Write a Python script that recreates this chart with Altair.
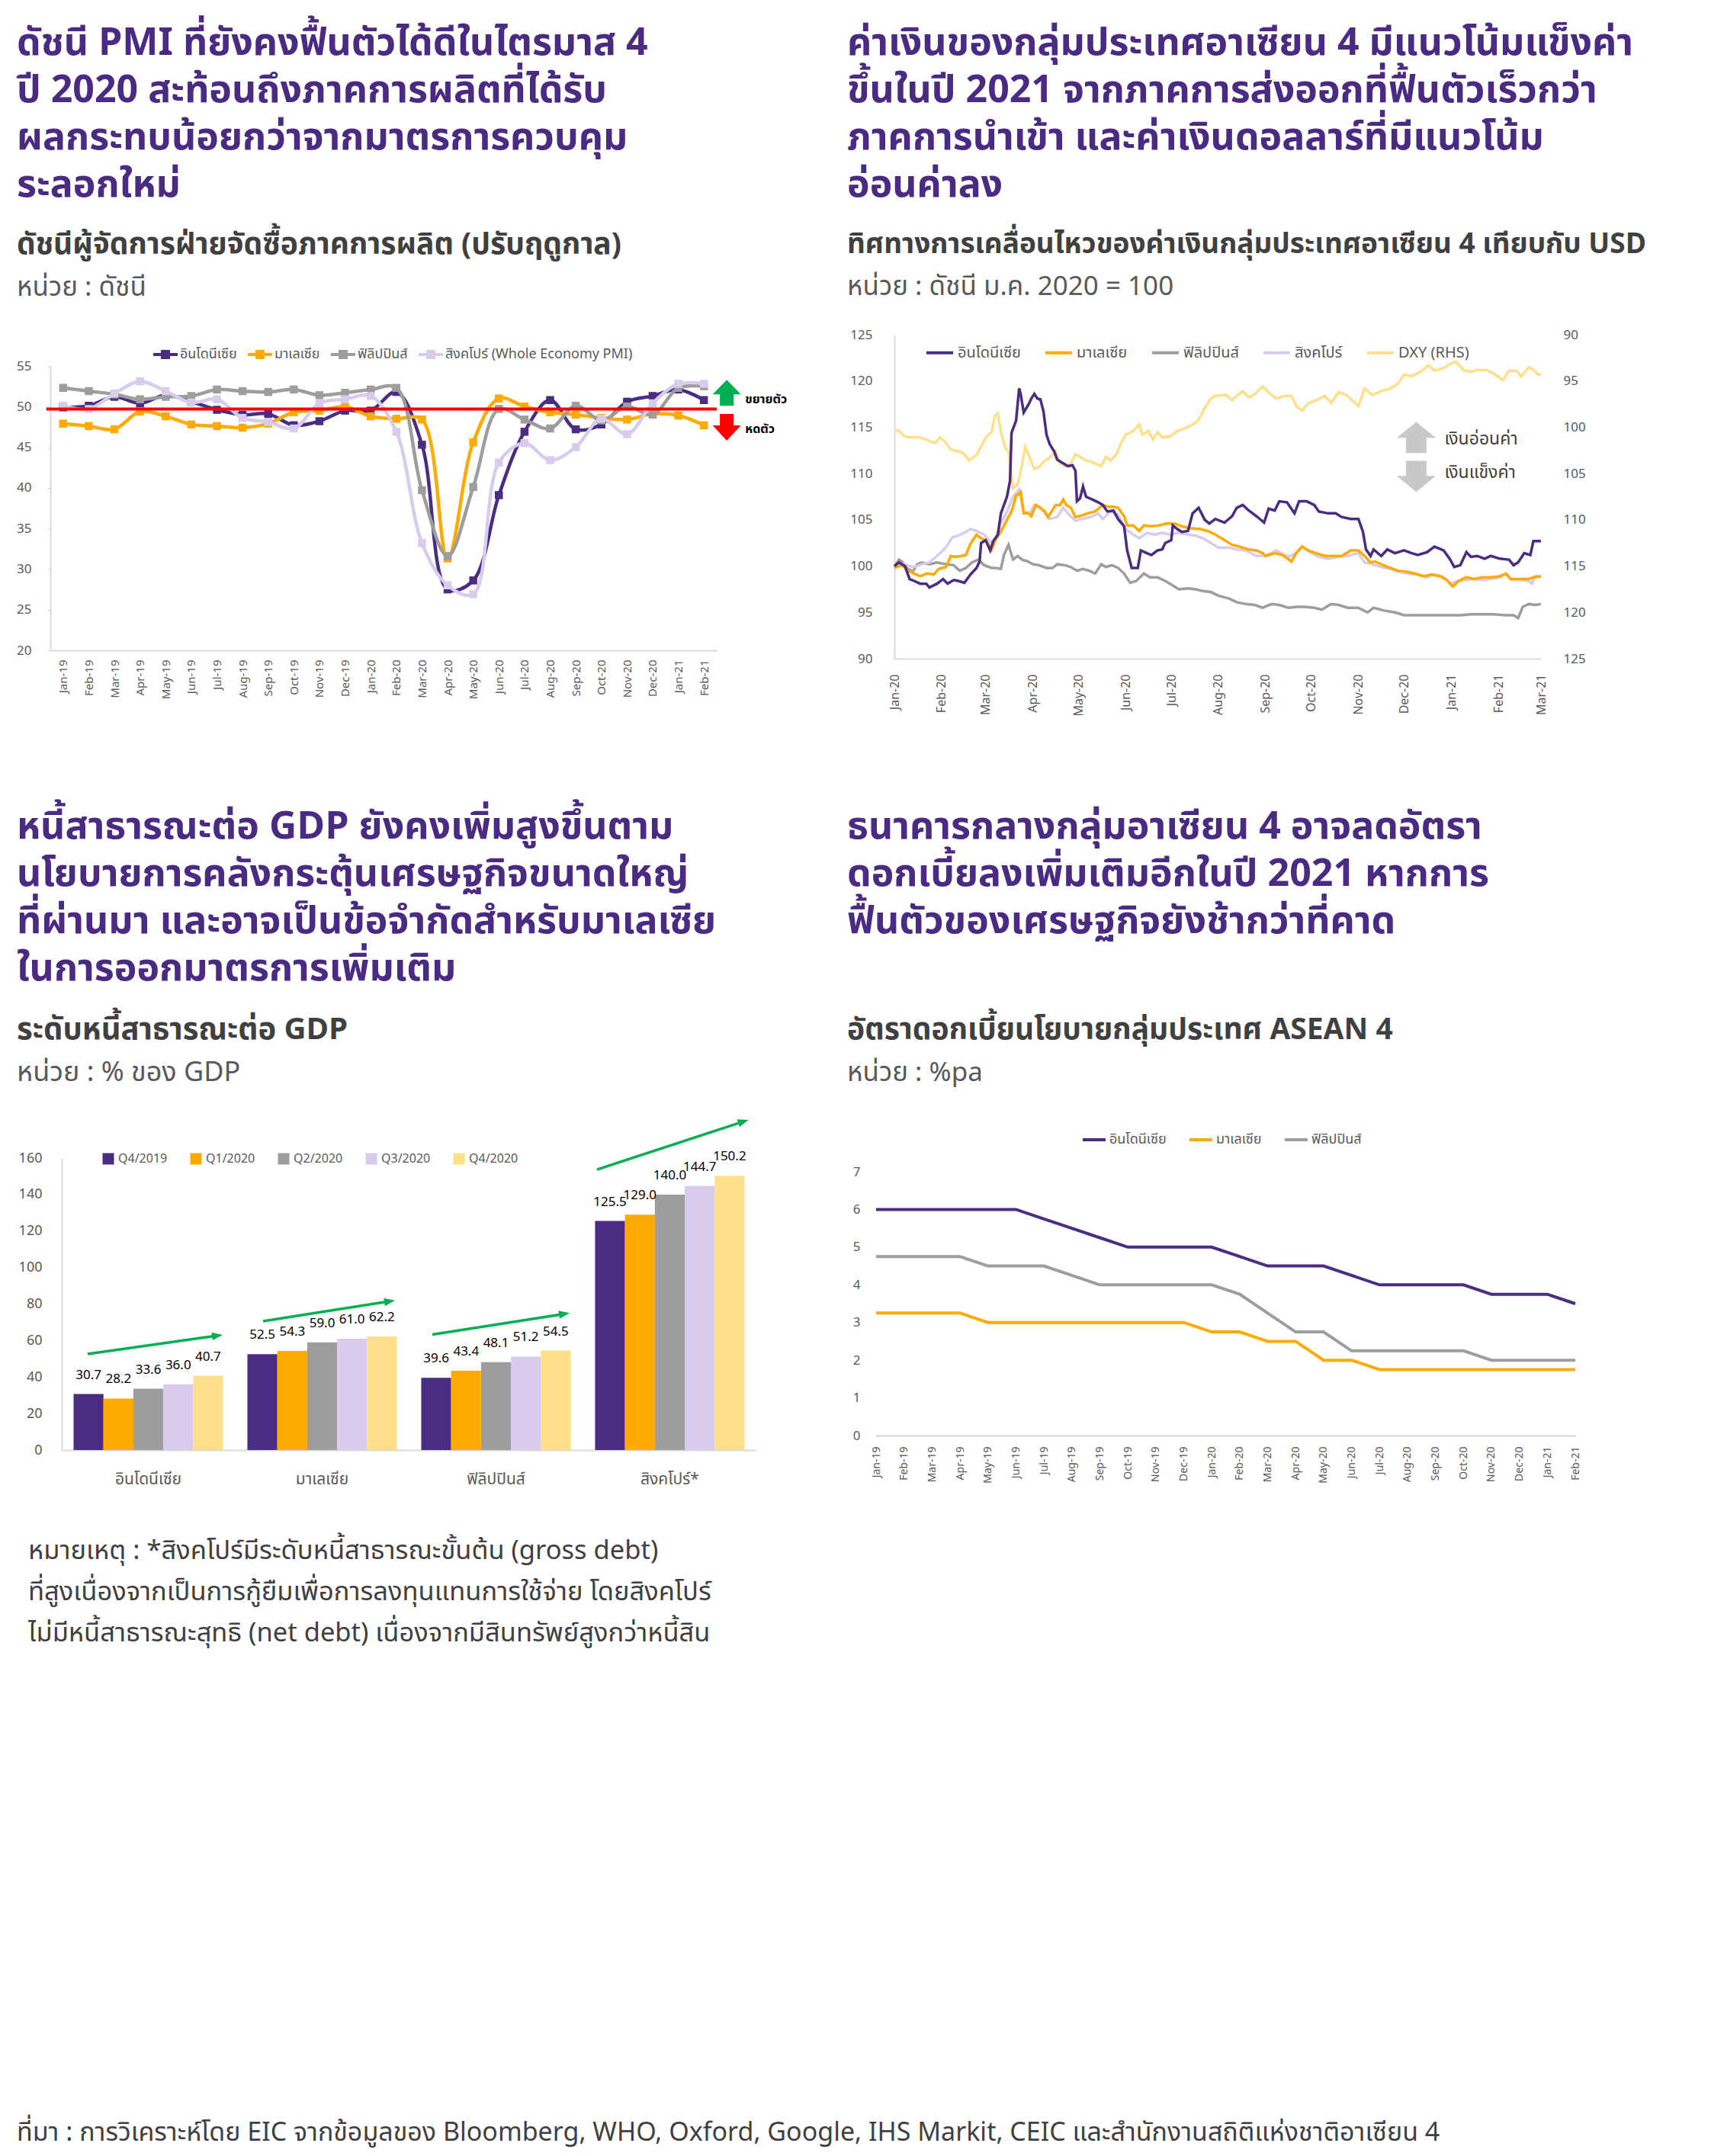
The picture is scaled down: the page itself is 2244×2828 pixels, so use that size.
import math
import altair as alt
import pandas as pd

FONT = "'Noto Sans Thai', 'Noto Sans', sans-serif"

# ---------------- colours ----------------
C_IDN = "#4B2C83"
C_MYS = "#FFAA00"
C_PHL = "#9D9D9D"
C_SGP = "#D9CBEB"
C_Q4 = "#FFDF8A"
TITLE_COLOR = "#4A2A82"
SUB_COLOR = "#404040"
UNIT_COLOR = "#595959"
AXIS_LABEL = "#595959"
AXIS_LINE = "#D9D9D9"
GREEN = "#00B050"
RED = "#FF0000"
ARROW_GRAY = "#C8C8C8"

# ---------------- texts ----------------
TITLE_A = ["ดัชนี PMI ที่ยังคงฟื้นตัวได้ดีในไตรมาส 4",
           "ปี 2020 สะท้อนถึงภาคการผลิตที่ได้รับ",
           "ผลกระทบน้อยกว่าจากมาตรการควบคุม",
           "ระลอกใหม่"]
SUB_A = "ดัชนีผู้จัดการฝ่ายจัดซื้อภาคการผลิต (ปรับฤดูกาล)"
UNIT_A = "หน่วย : ดัชนี"

TITLE_B = ["ค่าเงินของกลุ่มประเทศอาเซียน 4 มีแนวโน้มแข็งค่า",
           "ขึ้นในปี 2021 จากภาคการส่งออกที่ฟื้นตัวเร็วกว่า",
           "ภาคการนำเข้า และค่าเงินดอลลาร์ที่มีแนวโน้ม",
           "อ่อนค่าลง"]
SUB_B = "ทิศทางการเคลื่อนไหวของค่าเงินกลุ่มประเทศอาเซียน 4 เทียบกับ USD"
UNIT_B = "หน่วย : ดัชนี ม.ค. 2020 = 100"

TITLE_C = ["หนี้สาธารณะต่อ GDP ยังคงเพิ่มสูงขึ้นตาม",
           "นโยบายการคลังกระตุ้นเศรษฐกิจขนาดใหญ่",
           "ที่ผ่านมา และอาจเป็นข้อจำกัดสำหรับมาเลเซีย",
           "ในการออกมาตรการเพิ่มเติม"]
SUB_C = "ระดับหนี้สาธารณะต่อ GDP"
UNIT_C = "หน่วย : % ของ GDP"

TITLE_D = ["ธนาคารกลางกลุ่มอาเซียน 4 อาจลดอัตรา",
           "ดอกเบี้ยลงเพิ่มเติมอีกในปี 2021 หากการ",
           "ฟื้นตัวของเศรษฐกิจยังช้ากว่าที่คาด"]
SUB_D = "อัตราดอกเบี้ยนโยบายกลุ่มประเทศ ASEAN 4"
UNIT_D = "หน่วย : %pa"

FOOTNOTE = ["หมายเหตุ : *สิงคโปร์มีระดับหนี้สาธารณะขั้นต้น (gross debt)",
            "ที่สูงเนื่องจากเป็นการกู้ยืมเพื่อการลงทุนแทนการใช้จ่าย โดยสิงคโปร์",
            "ไม่มีหนี้สาธารณะสุทธิ (net debt) เนื่องจากมีสินทรัพย์สูงกว่าหนี้สิน"]
SOURCE = ("ที่มา : การวิเคราะห์โดย EIC จากข้อมูลของ Bloomberg, WHO, Oxford, Google, "
          "IHS Markit, CEIC และสำนักงานสถิติแห่งชาติอาเซียน 4")

# ---------------- data: PMI ----------------
PMI_MONTHS = ["Jan-19", "Feb-19", "Mar-19", "Apr-19", "May-19", "Jun-19", "Jul-19",
              "Aug-19", "Sep-19", "Oct-19", "Nov-19", "Dec-19", "Jan-20", "Feb-20",
              "Mar-20", "Apr-20", "May-20", "Jun-20", "Jul-20", "Aug-20", "Sep-20",
              "Oct-20", "Nov-20", "Dec-20", "Jan-21", "Feb-21"]
PMI_SERIES = ["อินโดนีเซีย", "มาเลเซีย", "ฟิลิปปินส์", "สิงคโปร์ (Whole Economy PMI)"]
IDN_PMI = [49.9, 50.1, 51.2, 50.4, 51.4, 50.6, 49.6, 49.0, 49.1, 47.7, 48.2, 49.5, 49.5,
           51.8, 45.3, 27.5, 28.6, 39.1, 46.9, 50.8, 47.2, 47.8, 50.6, 51.3, 52.1, 50.8]
MYS_PMI = [47.9, 47.6, 47.2, 49.4, 48.8, 47.8, 47.6, 47.4, 47.9, 49.3, 49.5, 50.0, 48.8,
           48.5, 48.4, 31.3, 45.6, 51.0, 50.0, 49.3, 49.0, 48.6, 48.4, 49.1, 48.9, 47.7]
PHL_PMI = [52.3, 51.9, 51.5, 50.9, 51.2, 51.3, 52.1, 51.9, 51.8, 52.1, 51.4, 51.7, 52.1,
           52.3, 39.7, 31.6, 40.1, 49.7, 48.4, 47.3, 50.1, 48.3, 50.0, 49.0, 52.3, 52.5]
SGP_PMI = [50.1, 49.7, 51.6, 53.1, 51.9, 50.5, 50.9, 48.6, 48.1, 47.3, 50.4, 50.9, 51.3,
           46.9, 33.2, 28.0, 26.9, 43.1, 45.5, 43.4, 45.0, 48.5, 46.6, 50.4, 52.8, 52.8]
PMI_THRESHOLD = 49.7
PMI_SIGNAL_LABELS = ["ขยายตัว", "หดตัว"]
PMI_SIGNAL_LABEL_Y = [50.9, 47.2]
PMI_SIGNAL_ARROW_Y = [51.7, 47.45]

# ---------------- data: currencies (day offset from 1 Jan 2020, index) ----------------
IDN_FX = [(0, 100.0), (3, 100.4), (7, 100.0), (10, 98.6), (13, 98.4), (17, 98.1), (21, 98.1),
          (23, 97.7), (28, 98.1), (32, 98.6), (35, 98.1), (39, 98.5), (42, 98.4), (46, 98.2),
          (50, 99.1), (54, 99.8), (56, 100.5), (57, 102.5), (60, 102.8), (63, 101.7),
          (65, 102.7), (68, 103.4), (70, 105.7), (74, 107.5), (76, 109.2), (77, 114.4),
          (80, 115.7), (82, 119.2), (83, 118.6), (85, 116.6), (88, 117.4), (90, 118.1),
          (92, 118.6), (94, 118.1), (96, 118.0), (98, 116.7), (100, 114.2), (102, 113.2),
          (105, 112.4), (107, 111.5), (111, 111.1), (114, 110.8), (117, 110.9), (119, 110.3),
          (120, 107.0), (122, 107.3), (124, 108.6), (126, 107.5), (130, 107.2), (134, 106.9),
          (137, 106.6), (140, 105.9), (144, 106.0), (147, 105.1), (151, 104.3), (153, 101.7),
          (156, 99.8), (160, 99.8), (162, 101.7), (166, 101.4), (169, 101.2), (173, 101.7),
          (176, 101.8), (178, 102.5), (182, 102.8), (183, 104.4), (186, 104.0), (189, 103.7),
          (193, 103.8), (196, 105.7), (200, 106.3), (204, 105.0), (207, 104.6), (211, 105.1),
          (217, 104.7), (222, 105.4), (225, 106.3), (229, 106.6), (233, 106.0), (238, 105.4),
          (243, 104.7), (246, 106.2), (250, 106.0), (253, 107.0), (258, 106.9), (263, 105.7),
          (266, 107.0), (271, 107.0), (276, 106.6), (279, 105.9), (285, 105.7), (290, 105.7),
          (294, 105.3), (300, 105.1), (305, 105.1), (308, 103.7), (310, 101.8), (313, 101.1),
          (315, 101.8), (320, 101.1), (324, 101.8), (329, 101.4), (335, 101.7), (340, 101.4),
          (344, 101.2), (350, 101.5), (355, 102.1), (361, 101.7), (365, 100.8), (368, 99.9),
          (372, 100.1), (376, 101.5), (379, 101.0), (383, 101.1), (388, 100.8), (392, 101.1),
          (398, 100.8), (404, 100.7), (407, 100.1), (410, 100.4), (414, 101.4), (418, 101.2),
          (420, 102.7), (425, 102.7)]
MYS_FX = [(0, 99.8), (5, 100.1), (9, 99.5), (13, 99.2), (17, 98.9), (21, 99.2), (26, 99.1),
          (29, 99.7), (34, 99.9), (37, 101.1), (40, 101.0), (44, 101.1), (47, 101.2),
          (50, 102.4), (54, 103.4), (57, 103.0), (60, 102.8), (64, 101.8), (67, 103.0),
          (70, 103.7), (74, 105.0), (77, 105.9), (80, 107.6), (83, 108.0), (85, 105.7),
          (88, 105.7), (90, 105.4), (93, 106.6), (96, 106.3), (99, 105.9), (101, 105.3),
          (106, 106.6), (109, 106.6), (111, 107.2), (113, 106.6), (116, 106.3), (119, 105.3),
          (122, 105.4), (127, 105.7), (132, 105.9), (137, 106.6), (141, 106.4), (144, 106.4),
          (147, 106.3), (151, 105.4), (153, 104.4), (157, 104.4), (161, 103.8), (164, 104.4),
          (169, 104.3), (174, 104.4), (179, 104.6), (184, 104.6), (189, 104.3), (194, 104.1),
          (201, 104.0), (206, 103.8), (211, 103.4), (218, 102.7), (222, 102.3), (227, 102.1),
          (233, 101.8), (238, 101.7), (242, 101.4), (244, 101.1), (250, 101.4), (255, 101.2),
          (261, 100.5), (264, 101.4), (268, 102.1), (272, 101.7), (277, 101.4), (283, 101.1),
          (289, 101.1), (294, 101.1), (300, 101.7), (305, 101.7), (309, 101.1), (313, 100.4),
          (316, 100.5), (320, 100.2), (326, 99.8), (331, 99.5), (337, 99.4), (342, 99.2),
          (348, 98.9), (353, 99.1), (359, 98.9), (363, 98.5), (367, 97.8), (371, 98.4),
          (376, 98.8), (381, 98.6), (387, 98.8), (392, 98.8), (398, 98.9), (402, 99.2),
          (405, 98.6), (411, 98.6), (417, 98.6), (420, 98.8), (425, 98.9)]
SGP_FX = [(0, 99.9), (3, 100.4), (8, 100.1), (13, 99.9), (18, 100.2), (23, 100.4), (28, 101.1),
          (32, 101.7), (35, 102.3), (38, 103.1), (42, 103.3), (47, 103.7), (50, 104.0),
          (54, 103.8), (59, 103.4), (64, 102.5), (67, 103.1), (70, 104.6), (74, 105.9),
          (78, 107.5), (82, 108.3), (85, 105.9), (89, 105.7), (92, 106.6), (95, 106.4),
          (99, 105.7), (102, 105.1), (107, 105.3), (111, 106.3), (114, 105.7), (119, 104.9),
          (124, 105.1), (129, 105.3), (134, 105.7), (137, 105.1), (142, 105.9), (147, 105.6),
          (152, 104.0), (157, 103.4), (161, 103.0), (166, 103.6), (171, 103.4), (176, 103.6),
          (181, 103.4), (186, 103.6), (193, 103.4), (198, 103.3), (203, 103.0), (208, 102.5),
          (213, 102.0), (220, 102.0), (225, 101.8), (231, 101.7), (238, 101.1), (244, 101.1),
          (251, 101.7), (259, 101.0), (264, 101.4), (268, 102.1), (274, 101.4), (279, 101.0),
          (285, 100.8), (292, 101.0), (298, 101.1), (305, 101.4), (309, 100.4), (314, 100.2),
          (320, 99.9), (326, 99.7), (331, 99.4), (337, 99.2), (344, 99.1), (350, 98.8),
          (355, 99.1), (361, 98.8), (366, 98.1), (370, 98.4), (376, 98.5), (381, 98.6),
          (387, 98.5), (392, 98.6), (398, 98.8), (402, 99.2), (405, 98.6), (411, 98.5),
          (417, 98.4), (419, 98.1), (421, 98.9), (425, 98.9)]
PHL_FX = [(0, 99.9), (3, 100.7), (5, 100.5), (8, 99.8), (12, 99.4), (15, 100.2), (18, 100.4),
          (23, 100.2), (28, 100.4), (34, 100.2), (39, 100.1), (43, 99.5), (47, 99.8),
          (51, 100.4), (55, 100.7), (59, 100.1), (64, 99.8), (67, 99.8), (70, 99.7),
          (72, 101.2), (75, 102.3), (78, 100.7), (81, 101.1), (84, 100.7), (88, 100.5),
          (91, 100.2), (95, 100.1), (100, 99.8), (104, 99.8), (107, 100.2), (112, 100.1),
          (116, 99.9), (120, 99.5), (124, 99.7), (128, 99.5), (132, 99.2), (136, 100.2),
          (139, 99.9), (143, 100.1), (147, 99.8), (151, 99.2), (155, 98.2), (159, 98.4),
          (164, 99.2), (168, 98.8), (173, 98.8), (178, 98.4), (183, 97.9), (187, 97.5),
          (193, 97.6), (198, 97.5), (203, 97.3), (208, 97.2), (213, 96.8), (220, 96.5),
          (225, 96.1), (231, 95.9), (237, 95.8), (242, 95.5), (248, 95.9), (253, 95.8),
          (259, 95.5), (264, 95.6), (270, 95.6), (276, 95.5), (281, 95.3), (287, 95.9),
          (292, 95.8), (298, 95.5), (305, 95.5), (311, 95.0), (315, 95.5), (322, 95.2),
          (329, 95.0), (335, 94.7), (342, 94.7), (350, 94.7), (357, 94.7), (365, 94.7),
          (372, 94.7), (379, 94.8), (387, 94.8), (394, 94.8), (402, 94.7), (407, 94.7),
          (410, 94.4), (413, 95.6), (417, 95.9), (421, 95.8), (425, 95.9)]
DXY_FX = [(0, 100.3), (3, 100.4), (7, 101.0), (12, 101.1), (17, 101.1), (20, 101.3), (27, 101.7),
          (30, 101.1), (34, 101.7), (37, 102.4), (42, 102.6), (46, 102.9), (49, 103.6),
          (54, 103.0), (57, 102.1), (60, 101.1), (64, 100.5), (66, 98.8), (68, 98.5),
          (70, 100.5), (73, 102.3), (75, 102.6), (78, 106.6), (81, 106.2), (84, 104.0),
          (86, 102.1), (88, 102.9), (92, 104.5), (95, 104.3), (99, 103.6), (102, 103.3),
          (106, 102.6), (109, 103.9), (112, 104.2), (116, 103.9), (119, 102.9), (122, 103.2),
          (126, 103.6), (129, 103.7), (132, 103.9), (136, 104.2), (139, 103.2), (142, 103.6),
          (146, 102.9), (149, 101.7), (152, 100.8), (157, 100.4), (161, 99.7), (163, 100.8),
          (167, 100.4), (170, 101.3), (173, 100.5), (176, 101.1), (181, 101.0), (186, 100.4),
          (191, 100.1), (196, 99.7), (200, 99.2), (204, 97.9), (208, 96.9), (211, 96.6),
          (218, 96.5), (222, 97.1), (225, 96.6), (229, 96.1), (233, 96.8), (237, 96.4),
          (242, 95.6), (247, 96.4), (251, 96.9), (257, 96.6), (261, 96.6), (264, 97.7),
          (268, 98.2), (272, 97.4), (277, 97.1), (283, 96.6), (287, 97.4), (292, 96.2),
          (297, 96.5), (301, 97.1), (305, 97.7), (309, 95.8), (314, 96.5), (320, 96.1),
          (326, 95.8), (331, 95.3), (335, 94.3), (340, 94.5), (346, 94.0), (351, 93.3),
          (355, 93.9), (361, 93.6), (365, 93.2), (369, 92.9), (374, 93.8), (379, 94.0),
          (383, 93.8), (389, 93.8), (394, 94.2), (400, 94.9), (404, 93.9), (409, 93.9),
          (412, 94.5), (417, 93.5), (420, 93.8), (423, 94.3), (425, 94.3)]
FX_SERIES = ["อินโดนีเซีย", "มาเลเซีย", "ฟิลิปปินส์", "สิงคโปร์", "DXY (RHS)"]
FX_BASE = pd.Timestamp("2020-01-01")
FX_ARROW_DATE = "2020-12-09"
FX_ARROW_Y = [113.9, 109.7]
FX_ARROW_LABELS = ["เงินอ่อนค่า", "เงินแข็งค่า"]
FX_ARROW_LABEL_Y = [113.7, 110.1]

# ---------------- data: public debt ----------------
DEBT_COUNTRIES = ["อินโดนีเซีย", "มาเลเซีย", "ฟิลิปปินส์", "สิงคโปร์*"]
DEBT_QUARTERS = ["Q4/2019", "Q1/2020", "Q2/2020", "Q3/2020", "Q4/2020"]
DEBT_IDN = [30.7, 28.2, 33.6, 36.0, 40.7]
DEBT_MYS = [52.5, 54.3, 59.0, 61.0, 62.2]
DEBT_PHL = [39.6, 43.4, 48.1, 51.2, 54.5]
DEBT_SGP = [125.5, 129.0, 140.0, 144.7, 150.2]
# trend arrows (group index units, % of GDP)
TREND_X0 = [0.149, 1.159, 2.134, 3.082]
TREND_X1 = [0.896, 1.888, 2.894, 3.925]
TREND_Y0 = [52.6, 70.6, 63.3, 153.7]
TREND_Y1 = [62.7, 81.5, 74.6, 180.0]

# ---------------- data: policy rates ----------------
RATE_MONTHS = PMI_MONTHS
RATE_SERIES = ["อินโดนีเซีย", "มาเลเซีย", "ฟิลิปปินส์"]
IDN_RATE = [6.0, 6.0, 6.0, 6.0, 6.0, 6.0, 5.75, 5.5, 5.25, 5.0, 5.0, 5.0, 5.0,
            4.75, 4.5, 4.5, 4.5, 4.25, 4.0, 4.0, 4.0, 4.0, 3.75, 3.75, 3.75, 3.5]
MYS_RATE = [3.25, 3.25, 3.25, 3.25, 3.0, 3.0, 3.0, 3.0, 3.0, 3.0, 3.0, 3.0, 2.75,
            2.75, 2.5, 2.5, 2.0, 2.0, 1.75, 1.75, 1.75, 1.75, 1.75, 1.75, 1.75, 1.75]
PHL_RATE = [4.75, 4.75, 4.75, 4.75, 4.5, 4.5, 4.5, 4.25, 4.0, 4.0, 4.0, 4.0, 4.0,
            3.75, 3.25, 2.75, 2.75, 2.25, 2.25, 2.25, 2.25, 2.25, 2.0, 2.0, 2.0, 2.0]

# ---------------- page geometry (page pixels, minus the 8px page margin) ----------------
M = 8
TOTAL_W, TOTAL_H = 2244 - 2 * M, 2828 - 2 * M


def P(v):
    return v - M


# panel plot frames: (left, right, bottom, top) in page pixels
A_L, A_R, A_B, A_T = 66, 940, 853, 480
B_L, B_R, B_B, B_T = 1173, 2021, 864, 439
C_L, C_R, C_B, C_T = 81, 992, 1902, 1519
D_L, D_R, D_B, D_T = 1149, 2066, 1883, 1537

TITLE_SIZE = 50
LINE_H = 62

DUMMY = pd.DataFrame({"k": [0]})


def text_block(text, x, y, size, color, bold=False, line_height=None):
    kw = dict(text=text, align="left", baseline="alphabetic", font=FONT, fontSize=size,
              color=color)
    if bold:
        kw["fontWeight"] = "bold"
    if line_height:
        kw["lineHeight"] = line_height
    return alt.Chart(DUMMY).mark_text(**kw).encode(x=alt.value(P(x)), y=alt.value(P(y)))


def header(title, sub, unit, x, y_title, y_sub, y_unit, sub_size, unit_size):
    return [text_block(title, x, y_title, TITLE_SIZE, TITLE_COLOR, True, LINE_H),
            text_block(sub, x, y_sub, sub_size, SUB_COLOR, True),
            text_block(unit, x, y_unit, unit_size, UNIT_COLOR)]


def xaxis_bottom(y_px, **kw):
    return alt.Axis(orient="bottom", offset=P(y_px) - TOTAL_H, ticks=False, tickSize=0,
                    domainColor=AXIS_LINE, grid=False, labelColor=AXIS_LABEL, labelFont=FONT,
                    labelOverlap=False, **kw)


def yaxis_left(x_px, **kw):
    return alt.Axis(orient="left", offset=-P(x_px), grid=False, labelColor=AXIS_LABEL,
                    labelFont=FONT, **kw)


layers = []

# =============== Panel A: PMI ===============
pmi_df = pd.DataFrame({
    "month": PMI_MONTHS * 4,
    "series": [s for s in PMI_SERIES for _ in PMI_MONTHS],
    "value": IDN_PMI + MYS_PMI + PHL_PMI + SGP_PMI,
})
A_XS = alt.Scale(type="point", domain=PMI_MONTHS, padding=0.5, range=[P(A_L), P(A_R)])
A_YS = alt.Scale(domain=[20, 55], nice=False, zero=False, range=[P(A_B), P(A_T)])
A_XAX = xaxis_bottom(A_B, labelAngle=-90, labelFontSize=15, labelPadding=12, domainWidth=2)
A_YAX = yaxis_left(A_L, values=list(range(20, 56, 5)), labelFontSize=17, domainColor=AXIS_LINE,
                   domainWidth=2, tickColor=AXIS_LINE, tickSize=4, labelPadding=21)


def xA(axis=False, field="month"):
    return alt.X(f"{field}:O", sort=PMI_MONTHS, title=None, scale=A_XS,
                 axis=A_XAX if axis else None)


def yA(axis=False):
    return alt.Y("value:Q", title=None, scale=A_YS, axis=A_YAX if axis else None)


LEGEND_LINE_SQUARE = "M-1,-0.13H1V0.13H-1Z M-0.375,-0.375H0.375V0.375H-0.375Z"
A_CS = alt.Scale(domain=PMI_SERIES, range=[C_IDN, C_MYS, C_PHL, C_SGP])
legA = alt.Legend(orient="none", legendX=P(201), legendY=P(465) - 16, direction="horizontal",
                  columns=4, title=None, symbolType=LEGEND_LINE_SQUARE, symbolSize=1024,
                  symbolStrokeWidth=0, labelFont=FONT, labelFontSize=18, labelColor=AXIS_LABEL,
                  columnPadding=14, labelOffset=3, padding=0, labelLimit=500)

for i, s in enumerate(PMI_SERIES):
    sub = alt.Chart(pmi_df).transform_filter(alt.datum.series == s)
    layers.append(sub.mark_line(strokeWidth=4.5, interpolate="catmull-rom").encode(
        x=xA(i == 0), y=yA(i == 0), color=alt.Color("series:N", scale=A_CS, legend=None)))
    layers.append(sub.mark_point(shape="square", filled=True, size=110, opacity=1).encode(
        x=xA(), y=yA(), color=alt.Color("series:N", scale=A_CS, legend=legA if i == 0 else None)))

# threshold line across the whole frame (first to last month, extended to the frame edges)
layers.append(alt.Chart(pd.DataFrame({"start": [PMI_MONTHS[0]], "end": [PMI_MONTHS[-1]],
                                      "value": [PMI_THRESHOLD]})).mark_rule(
    color=RED, strokeWidth=4, xOffset=-22, x2Offset=17).encode(
    x=xA(field="start"), x2="end:O", y=yA()))

UP_A = "M0,-0.92L1,0.11L0.49,0.11L0.49,0.92L-0.49,0.92L-0.49,0.11L-1,0.11Z"
DOWN_A = "M0,0.95L1,-0.13L0.49,-0.13L0.49,-0.95L-0.49,-0.95L-0.49,-0.13L-1,-0.13Z"
for shape, col, yv in [(UP_A, GREEN, PMI_SIGNAL_ARROW_Y[0]), (DOWN_A, RED, PMI_SIGNAL_ARROW_Y[1])]:
    layers.append(alt.Chart(pd.DataFrame({"month": [PMI_MONTHS[-1]], "value": [yv]})).mark_point(
        shape=shape, filled=True, size=1369, color=col, opacity=1, xOffset=30).encode(
        x=xA(), y=yA()))
sig_df = pd.DataFrame({"month": [PMI_MONTHS[-1]] * 2, "value": PMI_SIGNAL_LABEL_Y,
                       "label": PMI_SIGNAL_LABELS})
layers.append(alt.Chart(sig_df).mark_text(align="left", baseline="middle", dx=54, font=FONT,
                                          fontSize=16, fontWeight="bold", color="#000000").encode(
    x=xA(), y=yA(), text="label:N"))

layers += header(TITLE_A, SUB_A, UNIT_A, 22, 72, 333, 388, 39, 35)


# =============== Panel B: currencies ===============
def fx_frame(name, pairs):
    return pd.DataFrame({
        "date": [FX_BASE + pd.Timedelta(days=d) for d, _ in pairs],
        "value": [v for _, v in pairs],
        "series": name,
    })


fx_left = pd.concat([fx_frame(FX_SERIES[2], PHL_FX), fx_frame(FX_SERIES[3], SGP_FX),
                     fx_frame(FX_SERIES[1], MYS_FX), fx_frame(FX_SERIES[0], IDN_FX)],
                    ignore_index=True)
fx_right = fx_frame(FX_SERIES[4], DXY_FX)

B_XS = alt.Scale(domain=[alt.DateTime(year=2020, month=1, date=1),
                         alt.DateTime(year=2021, month=3, date=1)], range=[P(B_L), P(B_R)])
B_YS = alt.Scale(domain=[90, 125], nice=False, zero=False, range=[P(B_B), P(B_T)])
B_YRS = alt.Scale(domain=[90, 125], nice=False, zero=False, range=[P(B_T), P(B_B)])
B_XAX = xaxis_bottom(B_B, format="%b-%y", tickCount={"interval": "month", "step": 1},
                     labelAngle=-90, labelFontSize=16, labelPadding=20, domainWidth=2,
                     labelFlush=False)
B_YAX = yaxis_left(B_L, values=list(range(90, 126, 5)), labelFontSize=17, domainColor=AXIS_LINE,
                   domainWidth=2, ticks=False, tickSize=0, labelPadding=29)
B_YRAX = alt.Axis(orient="right", offset=P(B_R) - TOTAL_W, values=list(range(90, 126, 5)),
                  labelFontSize=17, labelColor=AXIS_LABEL, labelFont=FONT, grid=False,
                  domain=False, ticks=False, tickSize=0, labelPadding=29)


def xB(axis=False):
    return alt.X("date:T", title=None, scale=B_XS, axis=B_XAX if axis else None)


def yB(axis=False):
    return alt.Y("value:Q", title=None, scale=B_YS, axis=B_YAX if axis else None)


B_CS = alt.Scale(domain=FX_SERIES, range=[C_IDN, C_MYS, C_PHL, C_SGP, C_Q4])
legB = alt.Legend(orient="none", legendX=P(1213), legendY=P(460) - 17, direction="horizontal",
                  columns=5, title=None, symbolType="stroke", symbolSize=1225,
                  symbolStrokeWidth=4, labelFont=FONT, labelFontSize=20, labelColor=AXIS_LABEL,
                  columnPadding=24, labelOffset=4, padding=0, labelLimit=400)

layers.append(alt.Chart(fx_right).mark_line(strokeWidth=3.5).encode(
    x=xB(), y=alt.Y("value:Q", title=None, scale=B_YRS, axis=B_YRAX),
    color=alt.Color("series:N", scale=B_CS, legend=None)))
layers.append(alt.Chart(fx_left).mark_line(strokeWidth=3.5).encode(
    x=xB(True), y=yB(True), color=alt.Color("series:N", scale=B_CS, legend=legB),
    detail="series:N"))

UP_B = "M0,-0.8L1,0.02L0.53,0.02L0.53,0.8L-0.53,0.8L-0.53,0.02L-1,0.02Z"
DOWN_B = "M0,0.8L1,-0.02L0.53,-0.02L0.53,-0.8L-0.53,-0.8L-0.53,-0.02L-1,-0.02Z"
for shape, yv in [(UP_B, FX_ARROW_Y[0]), (DOWN_B, FX_ARROW_Y[1])]:
    layers.append(alt.Chart(pd.DataFrame({"date": [FX_ARROW_DATE], "value": [yv]})).mark_point(
        shape=shape, filled=True, size=2601, color=ARROW_GRAY, opacity=1).encode(x=xB(), y=yB()))
layers.append(alt.Chart(pd.DataFrame({"date": [FX_ARROW_DATE] * 2, "value": FX_ARROW_LABEL_Y,
                                      "label": FX_ARROW_LABELS})).mark_text(
    align="left", baseline="middle", dx=37, font=FONT, fontSize=23, color=SUB_COLOR).encode(
    x=xB(), y=yB(), text="label:N"))

layers += header(TITLE_B, SUB_B, UNIT_B, 1111, 72, 332, 387, 37, 35)

# =============== Panel C: public debt ===============
debt_df = pd.DataFrame({
    "country": [c for c in DEBT_COUNTRIES for _ in DEBT_QUARTERS],
    "quarter": DEBT_QUARTERS * 4,
    "value": DEBT_IDN + DEBT_MYS + DEBT_PHL + DEBT_SGP,
})
C_XS = alt.Scale(domain=DEBT_COUNTRIES, paddingInner=0.14, paddingOuter=0.068,
                 range=[P(C_L), P(C_R)])
C_YS = alt.Scale(domain=[0, 160], nice=False, range=[P(C_B), P(C_T)])
C_XAX = xaxis_bottom(C_B, labelAngle=0, labelFontSize=21, labelPadding=27, domainWidth=2)
C_YAX = yaxis_left(C_L, values=list(range(0, 161, 20)), labelFontSize=18, domainColor=AXIS_LINE,
                   domainWidth=2, ticks=False, tickSize=0, labelPadding=26)
xoC = alt.XOffset("quarter:N", sort=DEBT_QUARTERS,
                  scale=alt.Scale(domain=DEBT_QUARTERS, paddingInner=0, paddingOuter=0))
legC = alt.Legend(orient="none", legendX=P(134), legendY=P(1520) - 8, direction="horizontal",
                  columns=5, title=None, symbolType="square", symbolSize=225, symbolStrokeWidth=0,
                  labelFont=FONT, labelFontSize=16, labelColor=AXIS_LABEL, columnPadding=29,
                  labelOffset=5, padding=0)
layers.append(alt.Chart(debt_df).mark_bar().encode(
    x=alt.X("country:N", sort=DEBT_COUNTRIES, title=None, scale=C_XS, axis=C_XAX),
    xOffset=xoC,
    y=alt.Y("value:Q", title=None, scale=C_YS, axis=C_YAX),
    color=alt.Color("quarter:N", sort=DEBT_QUARTERS,
                    scale=alt.Scale(domain=DEBT_QUARTERS, range=[C_IDN, C_MYS, C_PHL, C_SGP, C_Q4]),
                    legend=legC)))
layers.append(alt.Chart(debt_df).mark_text(baseline="middle", dy=-25, font=FONT, fontSize=17,
                                           color="#000000").encode(
    x=alt.X("country:N", sort=DEBT_COUNTRIES, title=None, scale=C_XS, axis=None),
    xOffset=xoC,
    y=alt.Y("value:Q", title=None, scale=C_YS, axis=None),
    text=alt.Text("value:Q", format=".1f")))

trend_df = pd.DataFrame({"x0": TREND_X0, "x1": TREND_X1, "y0": TREND_Y0, "y1": TREND_Y1})
trend_df["angle"] = [
    (360 - math.degrees(math.atan2((b - a) * (C_B - C_T) / 160.0, (d - c) * (C_R - C_L) / 4.0))) % 360
    for a, b, c, d in zip(TREND_Y0, TREND_Y1, TREND_X0, TREND_X1)
]
C_XQ = alt.Scale(domain=[0, 4], nice=False, zero=False, range=[P(C_L), P(C_R)])
layers.append(alt.Chart(trend_df).mark_rule(color=GREEN, strokeWidth=3.5).encode(
    x=alt.X("x0:Q", scale=C_XQ, axis=None), x2="x1:Q",
    y=alt.Y("y0:Q", scale=C_YS, axis=None), y2="y1:Q"))
layers.append(alt.Chart(trend_df).mark_point(shape="M1,0L-1,-0.75L-1,0.75Z", filled=True, size=196,
                                             color=GREEN, opacity=1).encode(
    x=alt.X("x1:Q", scale=C_XQ, axis=None), y=alt.Y("y1:Q", scale=C_YS, axis=None),
    angle=alt.Angle("angle:Q", scale=None)))

layers += header(TITLE_C, SUB_C, UNIT_C, 22, 1100, 1363, 1418, 40, 36)

# =============== Panel D: policy rates ===============
rate_df = pd.DataFrame({
    "month": RATE_MONTHS * 3,
    "series": [s for s in RATE_SERIES for _ in RATE_MONTHS],
    "value": IDN_RATE + MYS_RATE + PHL_RATE,
})
D_XS = alt.Scale(type="point", domain=RATE_MONTHS, padding=0, range=[P(D_L), P(D_R)])
D_YS = alt.Scale(domain=[0, 7], nice=False, range=[P(D_B), P(D_T)])
D_XAX = xaxis_bottom(D_B, labelAngle=-90, labelFontSize=14, labelPadding=14, domainWidth=2.5)
D_YAX = yaxis_left(D_L, values=list(range(0, 8)), labelFontSize=17, domain=False, ticks=False,
                   tickSize=0, labelPadding=21)
legD = alt.Legend(orient="none", legendX=P(1418), legendY=P(1493) - 15, direction="horizontal",
                  columns=3, title=None, symbolType="stroke", symbolSize=900, symbolStrokeWidth=4,
                  labelFont=FONT, labelFontSize=18, labelColor=AXIS_LABEL, columnPadding=22,
                  labelOffset=3, padding=0)
layers.append(alt.Chart(rate_df).mark_line(strokeWidth=4).encode(
    x=alt.X("month:O", sort=RATE_MONTHS, title=None, scale=D_XS, axis=D_XAX),
    y=alt.Y("value:Q", title=None, scale=D_YS, axis=D_YAX),
    color=alt.Color("series:N", scale=alt.Scale(domain=RATE_SERIES, range=[C_IDN, C_MYS, C_PHL]),
                    legend=legD)))

layers += header(TITLE_D, SUB_D, UNIT_D, 1111, 1100, 1363, 1418, 39, 35)

# =============== footer ===============
layers.append(text_block(FOOTNOTE, 37, 2045, 34.5, SUB_COLOR, False, 54))
layers.append(text_block(SOURCE, 22, 2808, 34, SUB_COLOR))

chart = alt.layer(*layers).resolve_scale(
    x="independent", y="independent", color="independent"
).properties(
    width=TOTAL_W, height=TOTAL_H, padding=0, background="white",
    autosize=alt.AutoSizeParams(type="none"),
).configure_view(strokeWidth=0, stroke="transparent")

chart.save("out.html", embed_options={"renderer": "svg", "actions": False})
